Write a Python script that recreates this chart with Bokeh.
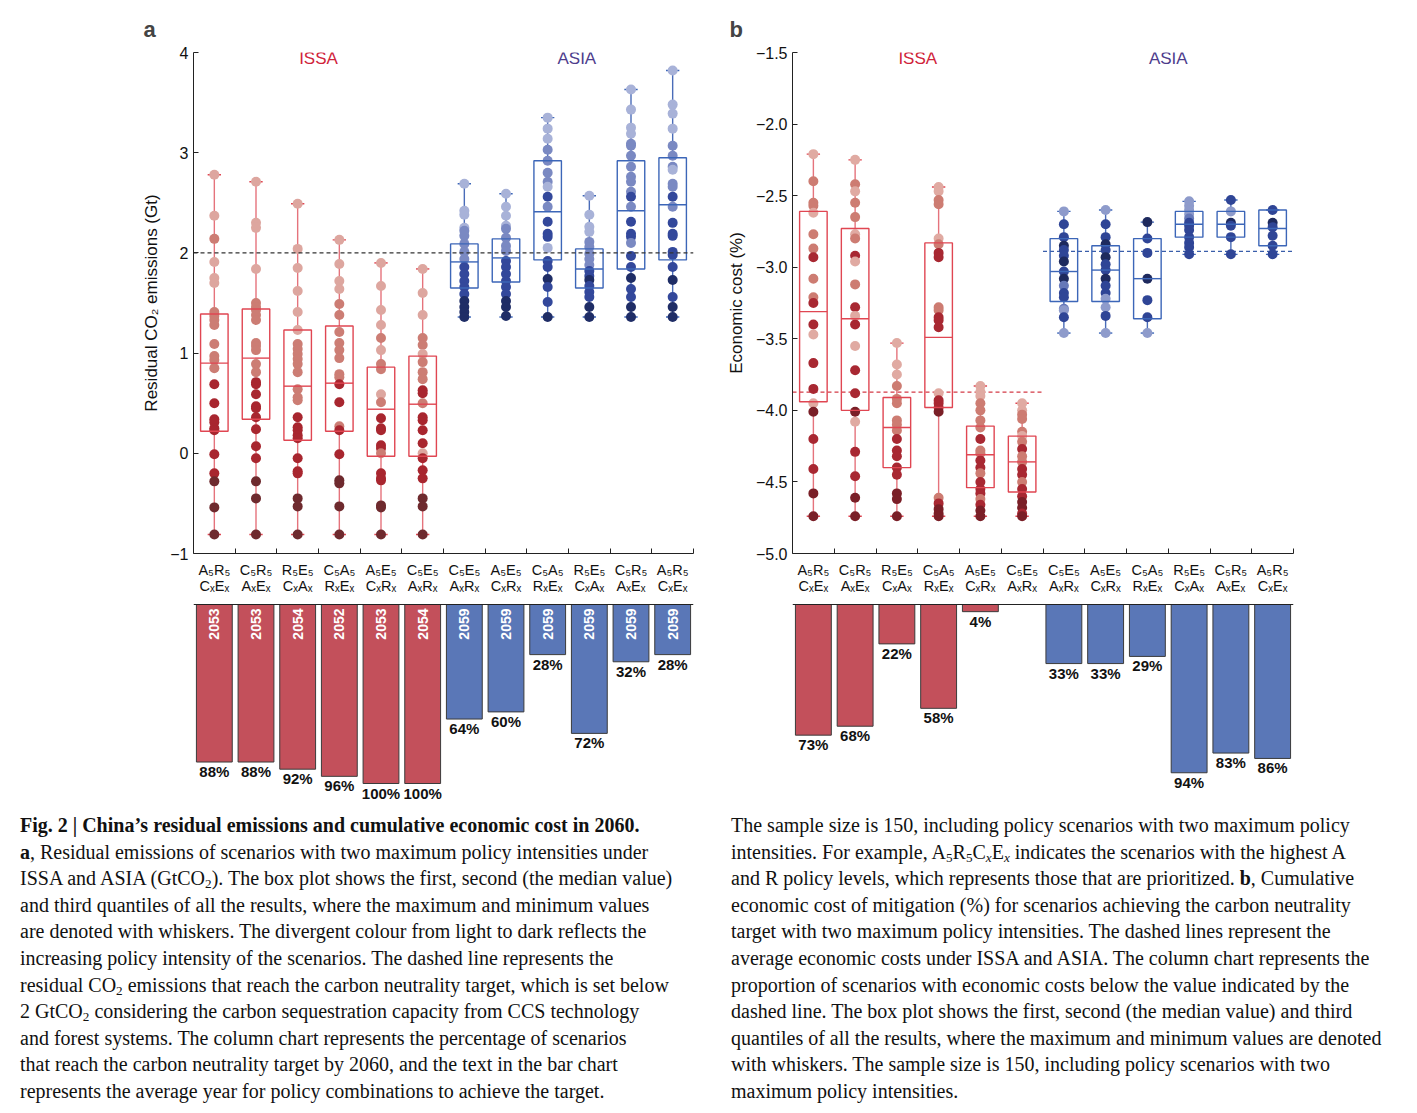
import math
from bokeh.plotting import figure
from bokeh.models import ColumnDataSource, Span, FixedTicker, Div, Range1d
from bokeh.layouts import column, row
from bokeh.embed import file_html
from bokeh.resources import INLINE
from bokeh.core.properties import value

FONT = "Liberation Sans"

# ---------------- categories ----------------
cat_top = ["A₅R₅", "C₅R₅", "R₅E₅", "C₅A₅", "A₅E₅", "C₅E₅",
           "C₅E₅", "A₅E₅", "C₅A₅", "R₅E₅", "C₅R₅", "A₅R₅"]
cat_bottom = ["CₓEₓ", "AₓEₓ", "CₓAₓ", "RₓEₓ", "CₓRₓ", "AₓRₓ",
              "AₓRₓ", "CₓRₓ", "RₓEₓ", "CₓAₓ", "AₓEₓ", "CₓEₓ"]
groups = ["ISSA", "ASIA"]

# ---------------- panel a: residual CO2 emissions (Gt) ----------------
a_q1 = [0.22, 0.34, 0.13, 0.22, -0.03, -0.03, 1.65, 1.71, 1.93, 1.65, 1.84, 1.93]
a_med = [0.90, 0.95, 0.67, 0.70, 0.44, 0.49, 1.91, 1.95, 2.41, 1.84, 2.42, 2.48]
a_q3 = [1.39, 1.44, 1.23, 1.27, 0.86, 0.97, 2.09, 2.14, 2.92, 2.04, 2.92, 2.95]
a_lo = [-0.81, -0.81, -0.81, -0.81, -0.81, -0.81, 1.36, 1.36, 1.36, 1.36, 1.36, 1.36]
a_hi = [2.78, 2.71, 2.49, 2.13, 1.90, 1.84, 2.69, 2.59, 3.35, 2.57, 3.63, 3.82]
a_target = 2.0

a_dots = [
    [2.78, 2.37, 2.14, 1.91, 1.75, 1.70, 1.41, 1.37, 1.33, 1.28, 1.09, 0.97, 0.93, 0.85,
     0.69, 0.50, 0.34, 0.31, 0.25, 0.23, -0.01, -0.20, -0.28, -0.54, -0.81],
    [2.71, 2.30, 2.25, 1.84, 1.50, 1.46, 1.43, 1.38, 1.33, 1.10, 1.07, 1.03, 0.89, 0.81,
     0.71, 0.69, 0.59, 0.47, 0.45, 0.36, 0.24, 0.07, -0.05, -0.28, -0.45, -0.81],
    [2.49, 2.04, 1.85, 1.62, 1.41, 1.23, 1.09, 1.04, 0.99, 0.94, 0.89, 0.81, 0.64, 0.56,
     0.53, 0.36, 0.26, 0.23, 0.18, 0.15, -0.05, -0.18, -0.20, -0.45, -0.53, -0.81],
    [2.13, 1.89, 1.72, 1.64, 1.49, 1.38, 1.21, 1.10, 1.03, 0.95, 0.79, 0.76, 0.69, 0.51,
     0.27, 0.23, -0.01, -0.27, -0.30, -0.53, -0.81],
    [1.90, 1.67, 1.43, 1.28, 1.15, 1.03, 0.89, 0.84, 0.59, 0.51, 0.35, 0.25, 0.23, 0.08,
     0.05, 0.00, -0.20, -0.25, -0.27, -0.52, -0.54, -0.81],
    [1.84, 1.60, 1.38, 1.15, 1.08, 0.99, 0.91, 0.81, 0.74, 0.63, 0.60, 0.50, 0.36, 0.33,
     0.23, 0.10, 0.00, -0.05, -0.17, -0.25, -0.45, -0.53, -0.81],
    [2.69, 2.42, 2.38, 2.25, 2.22, 2.17, 2.09, 2.01, 1.94, 1.86, 1.79, 1.72, 1.66, 1.59,
     1.52, 1.46, 1.41, 1.36],
    [2.59, 2.46, 2.37, 2.27, 2.24, 2.15, 2.07, 2.02, 1.92, 1.86, 1.79, 1.72, 1.66, 1.59,
     1.52, 1.46, 1.37],
    [3.35, 3.24, 3.14, 3.03, 2.92, 2.80, 2.71, 2.66, 2.56, 2.46, 2.31, 2.19, 2.16, 2.05,
     1.92, 1.86, 1.74, 1.66, 1.51, 1.36],
    [2.57, 2.38, 2.26, 2.21, 2.11, 2.06, 1.99, 1.94, 1.88, 1.82, 1.77, 1.73, 1.67, 1.61,
     1.56, 1.46, 1.36],
    [3.63, 3.43, 3.25, 3.19, 3.09, 3.07, 2.97, 2.86, 2.76, 2.71, 2.61, 2.56, 2.46, 2.31,
     2.19, 2.16, 2.10, 1.97, 1.86, 1.75, 1.64, 1.56, 1.46, 1.36],
    [3.82, 3.48, 3.39, 3.24, 3.07, 2.97, 2.86, 2.83, 2.69, 2.66, 2.56, 2.46, 2.30, 2.19,
     2.17, 2.01, 1.98, 1.86, 1.73, 1.56, 1.46, 1.36],
]
# intensity shade of every dot: L light, M medium, D dark, E darkest
a_shades = [
    "LLMLLLMMMMMMMMDDDDDDDDEEE",
    "LLLLMMMMMMMMMMDDDDDDDDDEEE",
    "LLLLLLMMMMMMMMMDDDDDDDDEEE",
    "LLLLMMMMMMMMDDMDDEEEE",
    "LLLLMLMMLMDDDDDMDDDEEE",
    "LLLMMLMMMDDMDDDDLDDDEEE",
    "LLLLMMMMMDDDDDEEEE",
    "LLLLMMMMDDDDDDEEE",
    "LLLMMMMLDMDDDLDDEDDE",
    "LLLLMMMMMDDEDDDEE",
    "LLLLMMMMMMMDMDDDMDDEDDEE",
    "LLLLMMMLMMDMDDDDDDEDEE",
]
a_pct = [88, 88, 92, 96, 100, 100, 64, 60, 28, 72, 32, 28]
a_year = ["2053", "2053", "2054", "2052", "2053", "2054",
          "2059", "2059", "2059", "2059", "2059", "2059"]

# ---------------- panel b: economic cost (%) ----------------
b_q1 = [-3.94, -4.00, -4.40, -3.98, -4.54, -4.57, -3.24, -3.24, -3.36, -2.79, -2.79, -2.85]
b_med = [-3.31, -3.36, -4.12, -3.49, -4.31, -4.36, -3.03, -3.02, -3.08, -2.70, -2.70, -2.73]
b_q3 = [-2.61, -2.73, -3.91, -2.83, -4.11, -4.18, -2.80, -2.85, -2.80, -2.61, -2.61, -2.60]
b_lo = [-4.74, -4.74, -4.74, -4.74, -4.74, -4.74, -3.46, -3.46, -3.46, -2.91, -2.91, -2.91]
b_hi = [-2.21, -2.25, -3.53, -2.44, -3.83, -3.95, -2.61, -2.60, -2.685, -2.54, -2.53, -2.60]
b_avg = [-3.873, -2.89]   # ISSA, ASIA averages (dashed lines)

b_dots = [
    [-2.21, -2.40, -2.55, -2.57, -2.62, -2.77, -2.87, -2.93, -3.08, -3.21, -3.25, -3.40,
     -3.47, -3.67, -3.85, -3.95, -4.01, -4.20, -4.41, -4.58, -4.74],
    [-2.25, -2.42, -2.47, -2.55, -2.65, -2.77, -2.80, -2.92, -2.96, -3.12, -3.28, -3.34,
     -3.40, -3.55, -3.72, -3.88, -4.01, -4.08, -4.29, -4.46, -4.61, -4.74],
    [-3.53, -3.68, -3.75, -3.83, -3.92, -3.95, -4.07, -4.10, -4.14, -4.20, -4.28, -4.32,
     -4.40, -4.45, -4.58, -4.62, -4.74],
    [-2.44, -2.47, -2.53, -2.56, -2.80, -2.84, -2.90, -2.93, -3.28, -3.30, -3.35, -3.37,
     -3.42, -3.88, -3.93, -3.95, -3.98, -4.01, -4.61, -4.65, -4.69, -4.72, -4.74],
    [-3.83, -3.87, -3.90, -3.95, -4.00, -4.07, -4.12, -4.20, -4.28, -4.30, -4.35, -4.40,
     -4.44, -4.50, -4.55, -4.58, -4.62, -4.66, -4.70, -4.74],
    [-3.95, -4.00, -4.03, -4.06, -4.15, -4.18, -4.22, -4.27, -4.32, -4.36, -4.41, -4.45,
     -4.50, -4.55, -4.60, -4.64, -4.68, -4.72, -4.74],
    [-2.61, -2.70, -2.79, -2.85, -2.88, -2.92, -2.96, -3.03, -3.08, -3.13, -3.18, -3.21,
     -3.29, -3.30, -3.35, -3.46],
    [-2.60, -2.70, -2.79, -2.84, -2.88, -2.93, -2.98, -3.02, -3.08, -3.13, -3.18, -3.22,
     -3.28, -3.34, -3.46],
    [-2.685, -2.80, -2.90, -3.08, -3.23, -3.35, -3.46],
    [-2.54, -2.57, -2.60, -2.63, -2.66, -2.69, -2.71, -2.74, -2.79, -2.83, -2.86, -2.91],
    [-2.53, -2.61, -2.69, -2.71, -2.79, -2.91],
    [-2.60, -2.69, -2.72, -2.78, -2.85, -2.91],
]
b_shades = [
    "LMMMLMMDMMDDLDDLEDDEE",
    "LMLMMLMDLMDLDLDDELDDEE",
    "LLLMMMMMMDDDDDEEE",
    "LLMMLMDDMMDDDLDDDEMDEEE",
    "LLLMMMMDMMDDMDDDMDEE",
    "LLMMMLMDMMDDMDDEEDE",
    "LDDEDDEDEMDDMLDL",
    "LDDEDEDDEDDLLDL",
    "EDDEDDL",
    "LLLLMDDDDDDD",
    "DLEDDD",
    "DEDDDD",
]
b_pct = [73, 68, 22, 58, 4, None, 33, 33, 29, 94, 83, 86]

# ---------------- caption ----------------
def sub(s):
    return f'<sub style="font-size:66%;line-height:0;vertical-align:-0.22em">{s}</sub>'

caption_left = [
    "<b>Fig. 2 | China’s residual emissions and cumulative economic cost in 2060.</b>",
    "<b>a</b>, Residual emissions of scenarios with two maximum policy intensities under",
    f"ISSA and ASIA (GtCO{sub('2')}). The box plot shows the first, second (the median value)",
    "and third quantiles of all the results, where the maximum and minimum values",
    "are denoted with whiskers. The divergent colour from light to dark reflects the",
    "increasing policy intensity of the scenarios. The dashed line represents the",
    f"residual CO{sub('2')} emissions that reach the carbon neutrality target, which is set below",
    f"2 GtCO{sub('2')} considering the carbon sequestration capacity from CCS technology",
    "and forest systems. The column chart represents the percentage of scenarios",
    "that reach the carbon neutrality target by 2060, and the text in the bar chart",
    "represents the average year for policy combinations to achieve the target.",
]
caption_right = [
    "The sample size is 150, including policy scenarios with two maximum policy",
    f"intensities. For example, A{sub('5')}R{sub('5')}C{sub('<i>x</i>')}E{sub('<i>x</i>')} indicates the scenarios with the highest A",
    "and R policy levels, which represents those that are prioritized. <b>b</b>, Cumulative",
    "economic cost of mitigation (%) for scenarios achieving the carbon neutrality",
    "target with two maximum policy intensities. The dashed lines represent the",
    "average economic costs under ISSA and ASIA. The column chart represents the",
    "proportion of scenarios with economic costs below the value indicated by the",
    "dashed line. The box plot shows the first, second (the median value) and third",
    "quantiles of all the results, where the maximum and minimum values are denoted",
    "with whiskers. The sample size is 150, including policy scenarios with two",
    "maximum policy intensities.",
]

# ---------------- styling ----------------
RED_PAL = {"L": "#dda69f", "M": "#cc7d74", "D": "#a8262f", "E": "#6e2a2e"}
BLUE_PAL = {"L": "#a8b2d8", "M": "#7a89c2", "D": "#33489b", "E": "#1f2d66"}
RED_PAL_B = {"L": "#e0aaa2", "M": "#cd7c72", "D": "#a82832", "E": "#7a1f27"}
BLUE_PAL_B = {"L": "#8e9bcb", "M": "#6678b8", "D": "#2f4596", "E": "#1e2a5e"}
BOX_RED, WHISK_RED = "#e04652", "#e5737c"
BOX_BLUE, WHISK_BLUE = "#3c66b8", "#4a6cb8"
BAR_RED, BAR_BLUE = "#c3505b", "#5a77b7"
GROUP_COLORS = ["#d0233a", "#4d3c8c"]

XS = [i + 0.5 for i in range(12)]
BOX_TOP_BORDER = 52
FRAME_H = 501
BOX_BOTTOM_BORDER = 46
BOX_H = BOX_TOP_BORDER + FRAME_H + BOX_BOTTOM_BORDER
BAR_H = 213
PX_PER_PCT = 1.79
ZERO_FROM_TOP = 5


def style_box_fig(p, letter, offset, ylabel, ticks, labels, label_standoff):
    p.outline_line_color = None
    p.grid.visible = False
    p.background_fill_color = None
    p.border_fill_color = None
    p.title.text = letter
    p.title.text_font = FONT
    p.title.text_font_size = "22px"
    p.title.text_font_style = "bold"
    p.title.offset = offset
    p.title.standoff = 21
    for ax in (p.xaxis, p.yaxis):
        ax.axis_line_color = "#222222"
        ax.major_tick_line_color = "#222222"
        ax.major_tick_in = 5
        ax.major_tick_out = 0
        ax.minor_tick_line_color = None
    # categories as multi-line tick labels, boundaries as (minor) ticks
    p.xaxis.ticker = FixedTicker(ticks=XS, minor_ticks=list(range(1, 13)))
    p.xaxis.major_label_overrides = {x: f"{t}\n{b}" for x, t, b in zip(XS, cat_top, cat_bottom)}
    p.xaxis.major_tick_in = 0
    p.xaxis.minor_tick_line_color = "#222222"
    p.xaxis.minor_tick_in = 5
    p.xaxis.minor_tick_out = 0
    p.xaxis.major_label_text_font = FONT
    p.xaxis.major_label_text_font_size = "14.5px"
    p.xaxis.major_label_text_color = "#111111"
    p.xaxis.major_label_text_line_height = 1.0
    p.xaxis.major_label_standoff = 8
    p.yaxis.ticker = FixedTicker(ticks=ticks)
    p.yaxis.major_label_overrides = dict(zip(ticks, labels))
    p.yaxis.major_label_text_font = FONT
    p.yaxis.major_label_text_font_size = "16px"
    p.yaxis.major_label_text_color = "#111111"
    p.yaxis.major_label_standoff = 5
    p.yaxis.axis_label = ylabel
    p.yaxis.axis_label_text_font = FONT
    p.yaxis.axis_label_text_font_size = "17px"
    p.yaxis.axis_label_text_font_style = "normal"
    p.yaxis.axis_label_text_color = "#111111"
    p.yaxis.axis_label_standoff = label_standoff


def draw_boxes(p, q1, med, q3, lo, hi, dots, shades, pals):
    src = ColumnDataSource(dict(
        x=XS, q1=q1, med=med, q3=q3, lo=lo, hi=hi,
        left=[x - 0.33 for x in XS], right=[x + 0.33 for x in XS],
        cl=[x - 0.16 for x in XS], cr=[x + 0.16 for x in XS],
        box=[BOX_RED] * 6 + [BOX_BLUE] * 6,
        wh=[WHISK_RED] * 6 + [WHISK_BLUE] * 6,
    ))
    p.segment(x0="x", y0="lo", x1="x", y1="q1", source=src, line_color="wh", line_width=1.4)
    p.segment(x0="x", y0="q3", x1="x", y1="hi", source=src, line_color="wh", line_width=1.4)
    p.segment(x0="cl", y0="hi", x1="cr", y1="hi", source=src, line_color="box", line_width=1.4)
    p.segment(x0="cl", y0="lo", x1="cr", y1="lo", source=src, line_color="box", line_width=1.4)
    dx, dy, dc = [], [], []
    for i, (vals, codes) in enumerate(zip(dots, shades)):
        pal = pals[0] if i < 6 else pals[1]
        for v, c in zip(vals, codes):
            dx.append(XS[i])
            dy.append(v)
            dc.append(pal[c])
    p.scatter(x=dx, y=dy, size=10, fill_color=dc, line_color=None)
    p.quad(left="left", right="right", bottom="q1", top="q3", source=src,
           fill_color=None, line_color="box", line_width=1.4)
    p.segment(x0="left", y0="med", x1="right", y1="med", source=src,
              line_color="box", line_width=1.4)


def add_groups(p, xs, y):
    p.text(x=xs, y=[y, y], text=groups, text_color=GROUP_COLORS,
           text_align="center", text_baseline="middle",
           text_font=value(FONT), text_font_size="17px")


def bar_fig(width, bl, br, pct, years):
    top = ZERO_FROM_TOP / PX_PER_PCT
    bottom = -(BAR_H - ZERO_FROM_TOP) / PX_PER_PCT
    p = figure(width=width, height=BAR_H, x_range=Range1d(0, 12), y_range=Range1d(bottom, top),
               min_border_left=bl, min_border_right=br, min_border_top=0, min_border_bottom=0,
               output_backend="svg", toolbar_location=None)
    p.xaxis.visible = False
    p.yaxis.visible = False
    p.grid.visible = False
    p.outline_line_color = None
    p.background_fill_color = None
    p.border_fill_color = None
    xs, vals, cols = [], [], []
    for i, v in enumerate(pct):
        if v is None:
            continue
        xs.append(XS[i])
        vals.append(-v)
        cols.append(BAR_RED if i < 6 else BAR_BLUE)
    src = ColumnDataSource(dict(x=xs, b=vals, c=cols, lab=[f"{-v}%" for v in vals]))
    p.vbar(x="x", top=0, bottom="b", width=0.86, source=src, fill_color="c",
           line_color="#3b3b3b", line_width=1)
    p.add_layout(Span(location=0, dimension="width", line_color="#222222", line_width=1.2))
    p.text(x="x", y="b", text="lab", source=src, y_offset=1, text_align="center",
           text_baseline="top", text_font=value(FONT), text_font_size="15px",
           text_font_style="bold", text_color="#111111")
    if years is not None:
        p.text(x=XS, y=[0] * 12, text=years, angle=math.pi / 2, y_offset=4,
               text_align="right", text_baseline="middle", text_font=value(FONT),
               text_font_size="14px", text_font_style="bold", text_color="white")
    return p


# ---------------- panel a ----------------
A_W, A_BL, A_BR = 700, 193, 7
box_a = figure(width=A_W, height=BOX_H, x_range=Range1d(0, 12), y_range=Range1d(-1, 4),
               min_border_left=A_BL, min_border_right=A_BR, min_border_top=BOX_TOP_BORDER,
               min_border_bottom=BOX_BOTTOM_BORDER, output_backend="svg", toolbar_location=None)
style_box_fig(box_a, "a", -50, "Residual CO₂ emissions (Gt)", [-1, 0, 1, 2, 3, 4],
              ["−1", "0", "1", "2", "3", "4"], 6)
box_a.add_layout(Span(location=a_target, dimension="width", line_color="#333333",
                      line_dash="4 3", line_width=1.2))
draw_boxes(box_a, a_q1, a_med, a_q3, a_lo, a_hi, a_dots, a_shades, (RED_PAL, BLUE_PAL))
add_groups(box_a, [3.0, 9.2], 3.94)
bar_a = bar_fig(A_W, A_BL, A_BR, a_pct, a_year)

# ---------------- panel b ----------------
B_W, B_BL, B_BR = 603, 92, 10
box_b = figure(width=B_W, height=BOX_H, x_range=Range1d(0, 12), y_range=Range1d(-5, -1.5),
               min_border_left=B_BL, min_border_right=B_BR, min_border_top=BOX_TOP_BORDER,
               min_border_bottom=BOX_BOTTOM_BORDER, output_backend="svg", toolbar_location=None)
b_ticks = [-5.0, -4.5, -4.0, -3.5, -3.0, -2.5, -2.0, -1.5]
style_box_fig(box_b, "b", -63, "Economic cost (%)", b_ticks,
              ["−" + f"{abs(t):.1f}" for t in b_ticks], 7)
box_b.segment(x0=[0, 6], x1=[6, 12], y0=b_avg, y1=b_avg, line_dash="4 3",
              line_color=["#d33a46", "#3a5eaa"], line_width=1.3)
draw_boxes(box_b, b_q1, b_med, b_q3, b_lo, b_hi, b_dots, b_shades, (RED_PAL_B, BLUE_PAL_B))
add_groups(box_b, [3.0, 9.0], -1.54)
bar_b = bar_fig(B_W, B_BL, B_BR, b_pct, None)

# ---------------- caption ----------------
CAP_STYLE = ("font-family:'Liberation Serif',serif;font-size:20px;line-height:26.6px;"
             "white-space:nowrap;color:#111111;")
div_l = Div(text=f'<div style="{CAP_STYLE}">' + "<br>".join(caption_left) + "</div>",
            width=699, margin=(0, 0, 0, 20))
div_r = Div(text=f'<div style="{CAP_STYLE}">' + "<br>".join(caption_right) + "</div>",
            width=686, margin=(0, 0, 0, 12))

layout = column(row(column(box_a, bar_a), column(box_b, bar_b)), row(div_l, div_r))

with open("out.html", "w") as f:
    f.write(file_html(layout, INLINE))
